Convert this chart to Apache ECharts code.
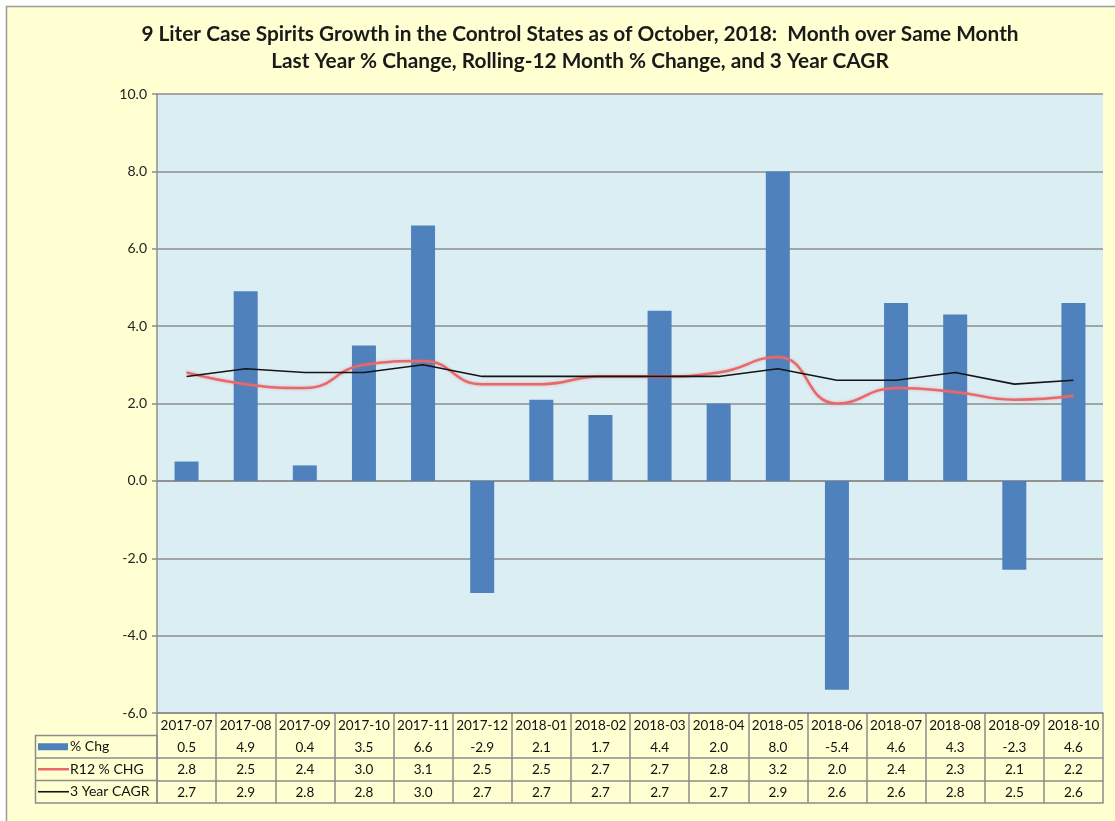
<!DOCTYPE html>
<html>
<head>
<meta charset="utf-8">
<script src="https://cdn.jsdelivr.net/npm/echarts@6/dist/echarts.min.js"></script>
<style>
html,body{margin:0;padding:0;background:#ffffff;}
#c{width:1115px;height:821px;}
</style>
</head>
<body>
<div id="c"></div>
<script>
var months = ['2017-07','2017-08','2017-09','2017-10','2017-11','2017-12','2018-01','2018-02','2018-03','2018-04','2018-05','2018-06','2018-07','2018-08','2018-09','2018-10'];
var pctChg = [0.5, 4.9, 0.4, 3.5, 6.6, -2.9, 2.1, 1.7, 4.4, 2.0, 8.0, -5.4, 4.6, 4.3, -2.3, 4.6];
var r12Chg = [2.8, 2.5, 2.4, 3.0, 3.1, 2.5, 2.5, 2.7, 2.7, 2.8, 3.2, 2.0, 2.4, 2.3, 2.1, 2.2];
var cagr3 = [2.7, 2.9, 2.8, 2.8, 3.0, 2.7, 2.7, 2.7, 2.7, 2.7, 2.9, 2.6, 2.6, 2.8, 2.5, 2.6];
var seriesNames = ['% Chg', 'R12 % CHG', '3 Year CAGR'];
var yTicks = {min: -6, max: 10, interval: 2};

var FONT = 'Lato';
var gridColor = '#8c8c8c';
var tableColor = '#8c8c8c';
var barColor = '#4F81BD';
var redColor = '#E8696A';
var blackColor = '#151515';

function tableAxis(offset, values) {
  return {
    type: 'category', gridIndex: 0, position: 'bottom', offset: offset,
    data: months,
    axisLine: {show: true, lineStyle: {color: tableColor, width: 1.5}},
    axisTick: {show: false},
    splitLine: {show: false},
    axisLabel: {
      show: !!values, interval: 0, margin: 5,
      fontFamily: FONT, fontSize: 13.5, color: '#111',
      formatter: function (v, i) { return values ? values[i].toFixed(1) : ''; }
    }
  };
}

// left column of the data table (legend keys)
var rowTop = 735.5, rowH = 22.5;
var legendGraphics = [
  {type: 'rect', z: 10, shape: {x: 35.5, y: rowTop, width: 121.5, height: rowH * 3},
   style: {fill: 'none', stroke: tableColor, lineWidth: 1.5}},
  {type: 'line', z: 10, shape: {x1: 35.5, y1: rowTop + rowH, x2: 157, y2: rowTop + rowH},
   style: {stroke: tableColor, lineWidth: 1.5}},
  {type: 'line', z: 10, shape: {x1: 35.5, y1: rowTop + 2 * rowH, x2: 157, y2: rowTop + 2 * rowH},
   style: {stroke: tableColor, lineWidth: 1.5}}
];
var keyStyles = [
  {type: 'rect', color: barColor},
  {type: 'line', color: redColor, width: 2.5},
  {type: 'line', color: blackColor, width: 1.6}
];
seriesNames.forEach(function (name, i) {
  var cy = rowTop + rowH * i + rowH / 2;
  var k = keyStyles[i];
  if (k.type === 'rect') {
    legendGraphics.push({type: 'rect', z: 11, shape: {x: 38, y: cy - 3.5, width: 30, height: 7},
      style: {fill: k.color}});
  } else {
    legendGraphics.push({type: 'line', z: 11, shape: {x1: 38, y1: cy, x2: 69, y2: cy},
      style: {stroke: k.color, lineWidth: k.width}});
  }
  legendGraphics.push({type: 'text', z: 11, x: 70, y: cy,
    style: {text: name, fontFamily: FONT, fontSize: 14, fill: '#111', textVerticalAlign: 'middle', verticalAlign: 'middle'}});
});

var chart = echarts.init(document.getElementById('c'), null, {renderer: 'canvas'});
chart.setOption({
  backgroundColor: '#ffffff',
  animation: false,
  graphic: [
    {type: 'rect', z: -10, shape: {x: 6.5, y: 6.5, width: 1120, height: 830},
     style: {fill: '#FFFFD2', stroke: '#9a9a9a', lineWidth: 1.5}}
  ].concat(legendGraphics),
  title: {
    text: '9 Liter Case Spirits Growth in the Control States as of October, 2018:  Month over Same Month\nLast Year % Change, Rolling-12 Month % Change, and 3 Year CAGR',
    left: 575, top: 16, textAlign: 'center',
    textStyle: {fontFamily: FONT, fontWeight: 'bold', fontSize: 20.8, lineHeight: 27, color: '#1a1a1a'}
  },
  grid: {left: 157, right: 12, top: 94, bottom: 108, show: true,
         backgroundColor: '#DBEEF4', borderColor: 'transparent', borderWidth: 0},
  xAxis: [
    {
      type: 'category', gridIndex: 0, position: 'bottom', data: months,
      axisLine: {show: true, onZero: false, lineStyle: {color: tableColor, width: 1.5}},
      axisTick: {show: true, interval: 0, length: 90, lineStyle: {color: tableColor, width: 1.5}},
      axisLabel: {interval: 0, margin: 6, fontFamily: FONT, fontSize: 13.5, color: '#111'},
      splitLine: {show: false}
    },
    tableAxis(22.5, pctChg),
    tableAxis(45, r12Chg),
    tableAxis(67.5, cagr3),
    tableAxis(90, null)
  ],
  yAxis: {
    type: 'value', min: yTicks.min, max: yTicks.max, interval: yTicks.interval,
    axisLine: {show: true, lineStyle: {color: gridColor, width: 1.5}},
    axisTick: {show: true, length: 5, lineStyle: {color: gridColor, width: 1.5}},
    axisLabel: {fontFamily: FONT, fontSize: 14, color: '#222', margin: 10,
                formatter: function (v) { return v.toFixed(1); }},
    splitLine: {show: true, lineStyle: {color: gridColor, width: 1.5}}
  },
  series: [
    {
      name: seriesNames[0], type: 'bar', data: pctChg, barWidth: 24,
      itemStyle: {color: barColor}, z: 2
    },
    {
      name: seriesNames[1], type: 'line', data: r12Chg, smooth: 0.5, symbol: 'none',
      lineStyle: {color: redColor, width: 2.5, shadowColor: 'rgba(232,105,106,0.45)', shadowBlur: 3},
      itemStyle: {color: redColor}, z: 3
    },
    {
      name: seriesNames[2], type: 'line', data: cagr3, smooth: false, symbol: 'none',
      lineStyle: {color: blackColor, width: 1.6},
      itemStyle: {color: blackColor}, z: 4
    }
  ]
});
</script>
</body>
</html>
